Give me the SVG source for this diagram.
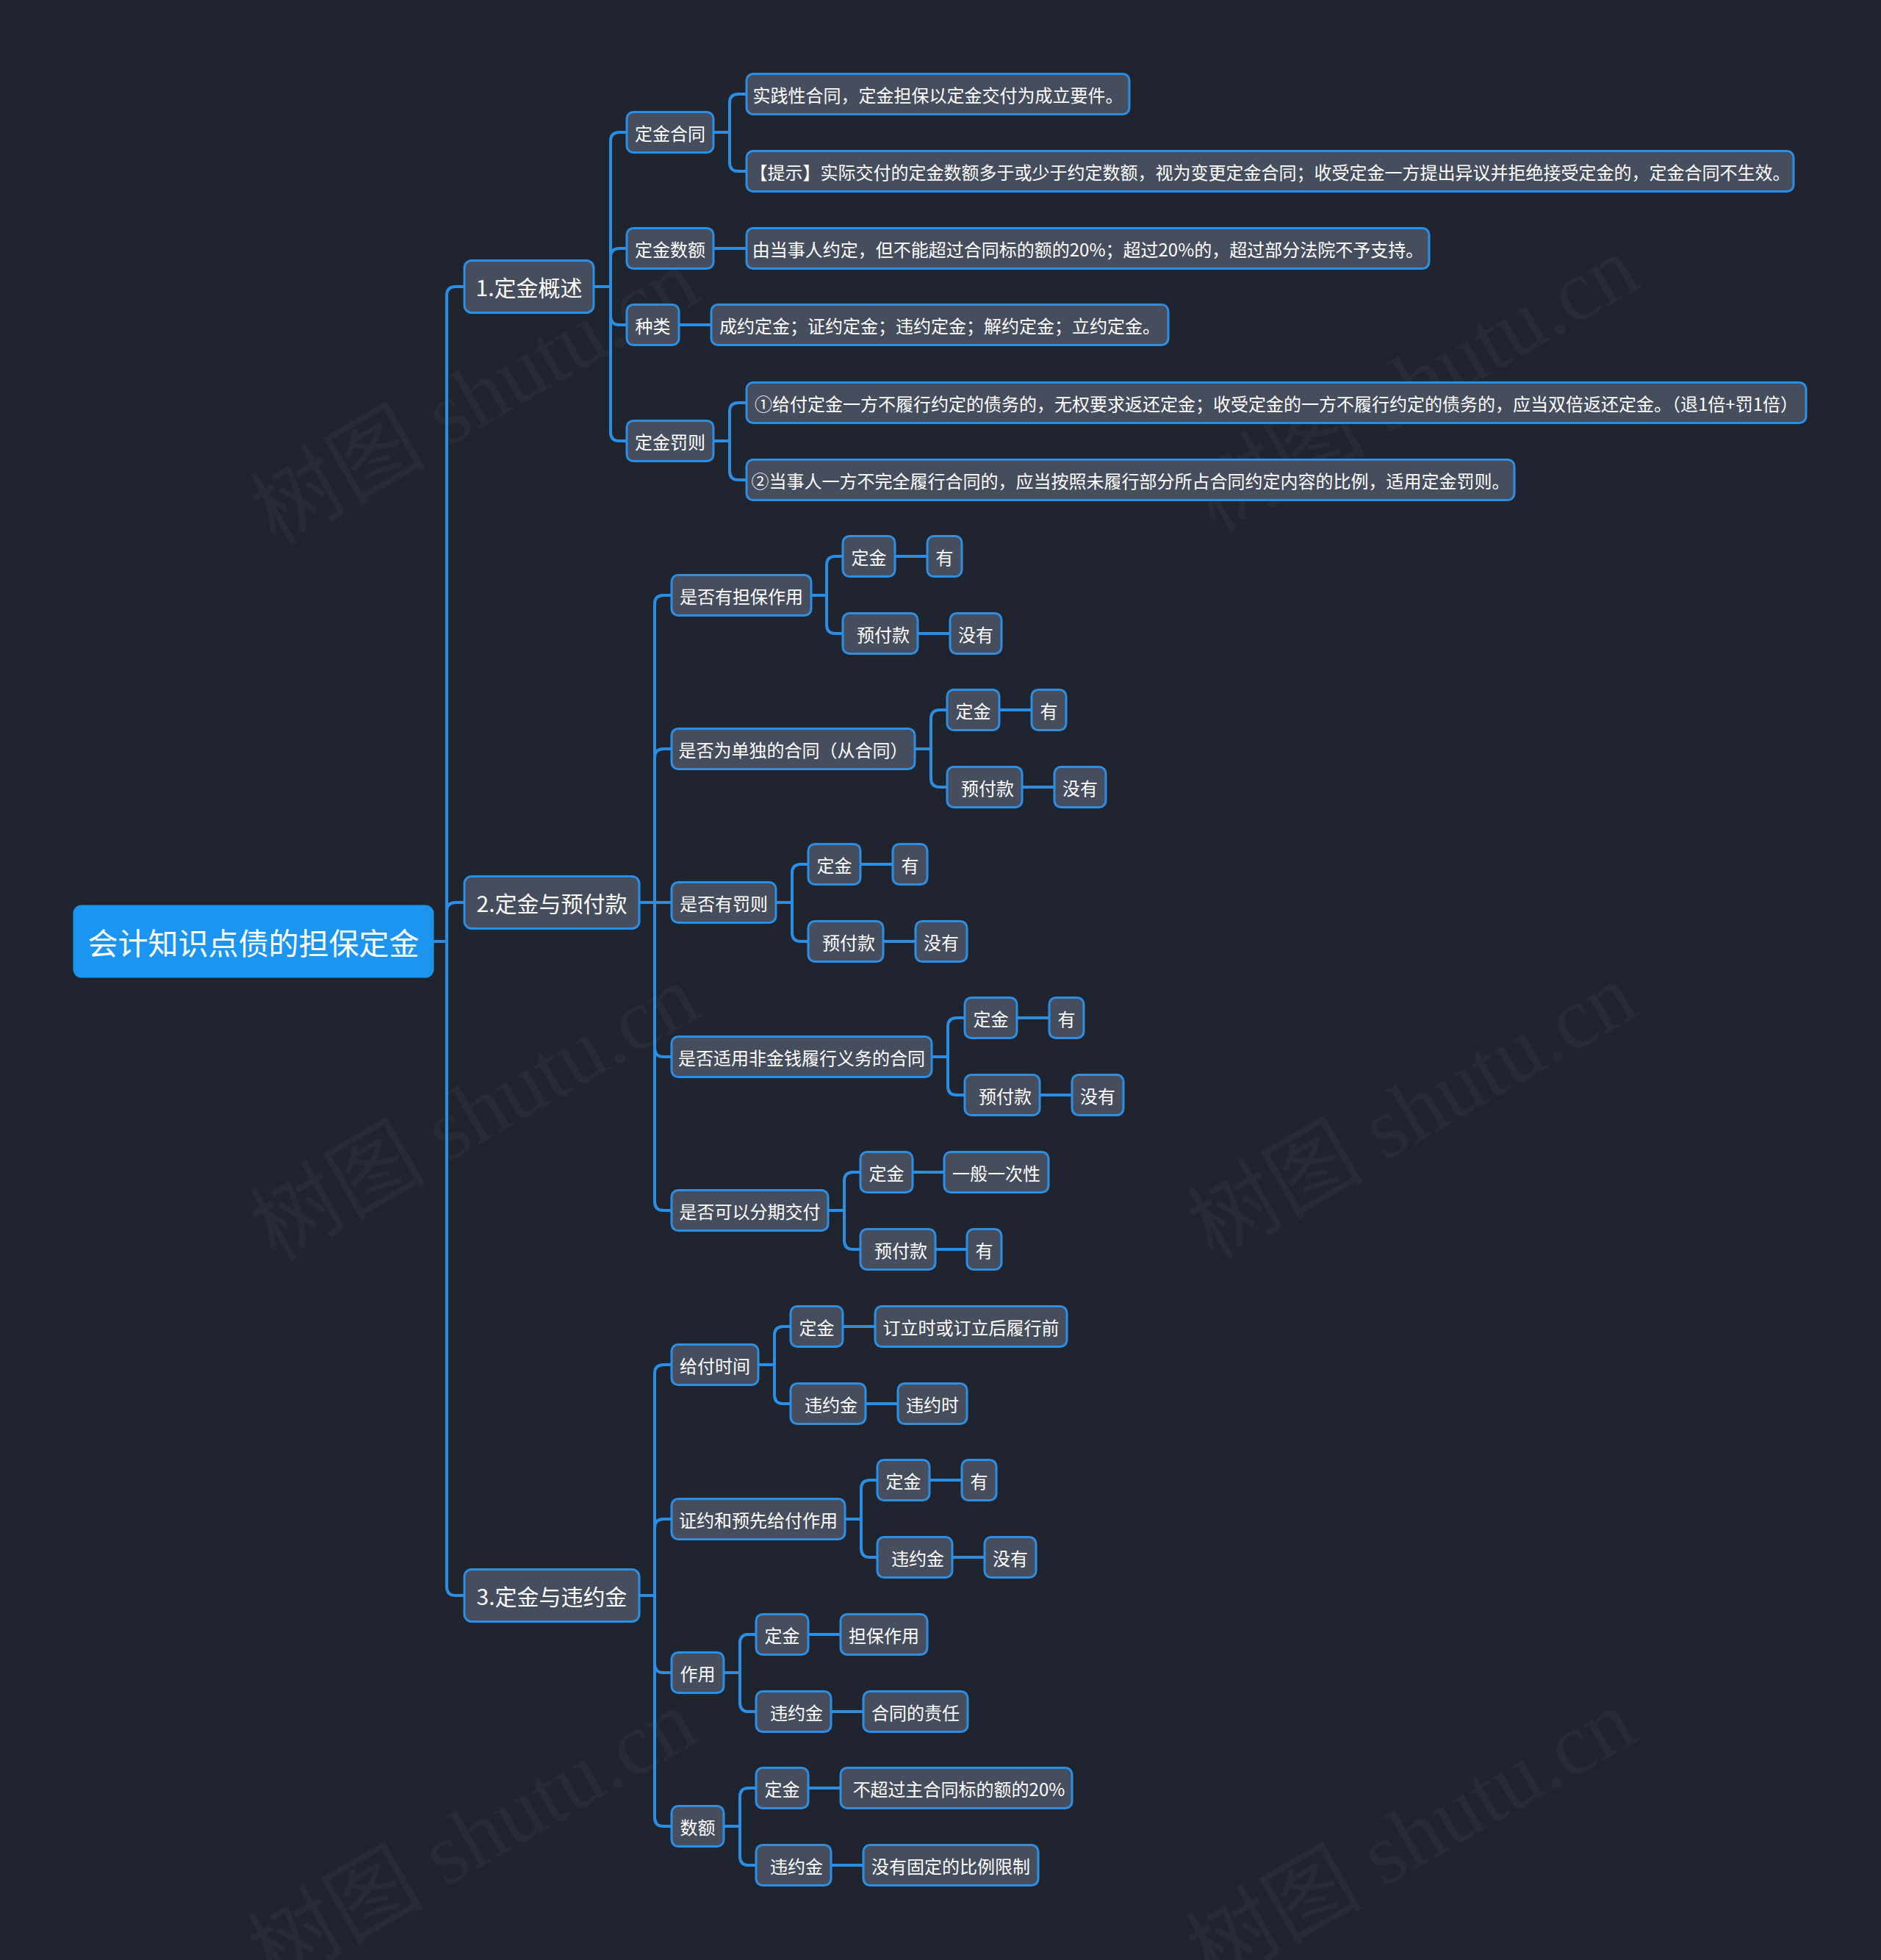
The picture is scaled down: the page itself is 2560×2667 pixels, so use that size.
<svg xmlns="http://www.w3.org/2000/svg" width="2560" height="2667" viewBox="0 0 2560 2667">
<style>
.bg{fill:#20242f}
.wm{font-family:"Liberation Serif","Noto Sans CJK SC",serif;font-size:120px;fill:#ffffff;fill-opacity:0.035;text-anchor:middle;dominant-baseline:central}
.n rect{fill:#464d5d;stroke:#2b8fe6;stroke-width:3}
.n text{font-family:"Noto Sans CJK SC","Noto Sans",sans-serif;font-size:24px;fill:#ffffff;text-anchor:middle;dominant-baseline:central}
.l1 text{font-size:30px}
.root rect{fill:#1b95ef;stroke:#1b95ef}
.root text{font-size:41px}
.c path{fill:none;stroke:#2a8fe4;stroke-width:4;stroke-linecap:round;stroke-linejoin:round}
</style>
<rect class="bg" x="0" y="0" width="2560" height="2667"/>
<g id="watermarks">
<text class="wm" transform="translate(646,540) rotate(-30)">树图 shutu.cn</text>
<text class="wm" transform="translate(1925,522) rotate(-30)">树图 shutu.cn</text>
<text class="wm" transform="translate(646,1514) rotate(-30)">树图 shutu.cn</text>
<text class="wm" transform="translate(1922,1512) rotate(-30)">树图 shutu.cn</text>
<text class="wm" transform="translate(643,2500) rotate(-30)">树图 shutu.cn</text>
<text class="wm" transform="translate(1920,2500) rotate(-30)">树图 shutu.cn</text>
</g>
<g id="connectors" class="c">
<path d="M589 1281 H608 V402 Q608 390 620 390 H632"/>
<path d="M589 1281 H608 V1240 Q608 1228 620 1228 H632"/>
<path d="M589 1281 H608 V2159 Q608 2171 620 2171 H632"/>
<path d="M808 390 H831 V192 Q831 180 843 180 H853"/>
<path d="M808 390 H831 V350 Q831 338 843 338 H853"/>
<path d="M808 390 H831 V430 Q831 442 843 442 H853"/>
<path d="M808 390 H831 V588 Q831 600 843 600 H853"/>
<path d="M971 180 H993 V140 Q993 128 1005 128 H1016"/>
<path d="M971 180 H993 V221 Q993 233 1005 233 H1016"/>
<path d="M971 338 H1016"/>
<path d="M924 442 H968"/>
<path d="M971 600 H993 V560 Q993 548 1005 548 H1016"/>
<path d="M971 600 H993 V641 Q993 653 1005 653 H1016"/>
<path d="M870 1228 H891 V822 Q891 810 903 810 H914"/>
<path d="M870 1228 H891 V1031 Q891 1019 903 1019 H914"/>
<path d="M870 1228 H914"/>
<path d="M870 1228 H891 V1426 Q891 1438 903 1438 H914"/>
<path d="M870 1228 H891 V1635 Q891 1647 903 1647 H914"/>
<path d="M1104 810 H1125 V769 Q1125 757 1137 757 H1147"/>
<path d="M1104 810 H1125 V850 Q1125 862 1137 862 H1147"/>
<path d="M1218 757 H1262"/>
<path d="M1249 862 H1293"/>
<path d="M1245 1019 H1267 V978 Q1267 966 1279 966 H1289"/>
<path d="M1245 1019 H1267 V1059 Q1267 1071 1279 1071 H1289"/>
<path d="M1360 966 H1404"/>
<path d="M1391 1071 H1435"/>
<path d="M1056 1228 H1078 V1188 Q1078 1176 1090 1176 H1100"/>
<path d="M1056 1228 H1078 V1269 Q1078 1281 1090 1281 H1100"/>
<path d="M1171 1176 H1215"/>
<path d="M1202 1281 H1246"/>
<path d="M1268 1438 H1290 V1397 Q1290 1385 1302 1385 H1313"/>
<path d="M1268 1438 H1290 V1478 Q1290 1490 1302 1490 H1313"/>
<path d="M1384 1385 H1428"/>
<path d="M1415 1490 H1459"/>
<path d="M1127 1647 H1149 V1607 Q1149 1595 1161 1595 H1171"/>
<path d="M1127 1647 H1149 V1688 Q1149 1700 1161 1700 H1171"/>
<path d="M1242 1595 H1285"/>
<path d="M1273 1700 H1316"/>
<path d="M870 2171 H891 V1869 Q891 1857 903 1857 H914"/>
<path d="M870 2171 H891 V2079 Q891 2067 903 2067 H914"/>
<path d="M870 2171 H891 V2264 Q891 2276 903 2276 H914"/>
<path d="M870 2171 H891 V2473 Q891 2485 903 2485 H914"/>
<path d="M1032 1857 H1054 V1817 Q1054 1805 1066 1805 H1076"/>
<path d="M1032 1857 H1054 V1898 Q1054 1910 1066 1910 H1076"/>
<path d="M1147 1805 H1191"/>
<path d="M1178 1910 H1222"/>
<path d="M1150 2067 H1172 V2026 Q1172 2014 1184 2014 H1194"/>
<path d="M1150 2067 H1172 V2107 Q1172 2119 1184 2119 H1194"/>
<path d="M1265 2014 H1309"/>
<path d="M1296 2119 H1340"/>
<path d="M985 2276 H1007 V2236 Q1007 2224 1019 2224 H1029"/>
<path d="M985 2276 H1007 V2317 Q1007 2329 1019 2329 H1029"/>
<path d="M1100 2224 H1144"/>
<path d="M1131 2329 H1175"/>
<path d="M985 2485 H1007 V2445 Q1007 2433 1019 2433 H1029"/>
<path d="M985 2485 H1007 V2526 Q1007 2538 1019 2538 H1029"/>
<path d="M1100 2433 H1144"/>
<path d="M1131 2538 H1175"/>
</g>
<g id="root" class="n root"><rect x="101" y="1233" width="488" height="96" rx="10"/><text x="345" y="1281">会计知识点债的担保定金</text></g>
<g id="s1" class="n l1"><rect x="632" y="354.5" width="176" height="71" rx="10"/><text x="720" y="390">1.定金概述</text></g>
<g id="s2" class="n l1"><rect x="632" y="1192.5" width="238" height="71" rx="10"/><text x="751" y="1228">2.定金与预付款</text></g>
<g id="s3" class="n l1"><rect x="632" y="2135.5" width="238" height="71" rx="10"/><text x="751" y="2171">3.定金与违约金</text></g>

<g id="n1a" class="n"><rect x="853" y="152.5" width="118" height="55" rx="9"/><text x="912" y="180">定金合同</text></g>
<g id="n1a1" class="n"><rect x="1016" y="100.5" width="521" height="55" rx="9"/><text x="1276.5" y="128">实践性合同，定金担保以定金交付为成立要件。</text></g>
<g id="n1a2" class="n"><rect x="1016" y="205.5" width="1425" height="55" rx="9"/><text x="1728.5" y="233">【提示】实际交付的定金数额多于或少于约定数额，视为变更定金合同；收受定金一方提出异议并拒绝接受定金的，定金合同不生效。</text></g>
<g id="n1b" class="n"><rect x="853" y="310.5" width="118" height="55" rx="9"/><text x="912" y="338">定金数额</text></g>
<g id="n1b1" class="n"><rect x="1016" y="310.5" width="929" height="55" rx="9"/><text x="1480.5" y="338">由当事人约定，但不能超过合同标的额的20%；超过20%的，超过部分法院不予支持。</text></g>
<g id="n1c" class="n"><rect x="853" y="414.5" width="71" height="55" rx="9"/><text x="888.5" y="442">种类</text></g>
<g id="n1c1" class="n"><rect x="968" y="414.5" width="622" height="55" rx="9"/><text x="1279" y="442">成约定金；证约定金；违约定金；解约定金；立约定金。</text></g>
<g id="n1d" class="n"><rect x="853" y="572.5" width="118" height="55" rx="9"/><text x="912" y="600">定金罚则</text></g>
<g id="n1d1" class="n"><rect x="1016" y="520.5" width="1442" height="55" rx="9"/><text x="1737" y="548">①给付定金一方不履行约定的债务的，无权要求返还定金；收受定金的一方不履行约定的债务的，应当双倍返还定金。（退1倍+罚1倍）</text></g>
<g id="n1d2" class="n"><rect x="1016" y="625.5" width="1045" height="55" rx="9"/><text x="1538.5" y="653">②当事人一方不完全履行合同的，应当按照未履行部分所占合同约定内容的比例，适用定金罚则。</text></g>

<g id="n2a" class="n"><rect x="914" y="782.5" width="190" height="55" rx="9"/><text x="1009" y="810">是否有担保作用</text></g>
<g id="n2a1" class="n"><rect x="1147" y="729.5" width="71" height="55" rx="9"/><text x="1182.5" y="757">定金</text></g>
<g id="n2a1a" class="n"><rect x="1262" y="729.5" width="47" height="55" rx="9"/><text x="1285.5" y="757">有</text></g>
<g id="n2a2" class="n"><rect x="1147" y="834.5" width="102" height="55" rx="9"/><text x="1202" y="862">预付款</text></g>
<g id="n2a2a" class="n"><rect x="1293" y="834.5" width="70" height="55" rx="9"/><text x="1328" y="862">没有</text></g>

<g id="n2b" class="n"><rect x="914" y="991.5" width="331" height="55" rx="9"/><text x="1079.5" y="1019">是否为单独的合同（从合同）</text></g>
<g id="n2b1" class="n"><rect x="1289" y="938.5" width="71" height="55" rx="9"/><text x="1324.5" y="966">定金</text></g>
<g id="n2b1a" class="n"><rect x="1404" y="938.5" width="47" height="55" rx="9"/><text x="1427.5" y="966">有</text></g>
<g id="n2b2" class="n"><rect x="1289" y="1043.5" width="102" height="55" rx="9"/><text x="1344" y="1071">预付款</text></g>
<g id="n2b2a" class="n"><rect x="1435" y="1043.5" width="70" height="55" rx="9"/><text x="1470" y="1071">没有</text></g>

<g id="n2c" class="n"><rect x="914" y="1200.5" width="142" height="55" rx="9"/><text x="985" y="1228">是否有罚则</text></g>
<g id="n2c1" class="n"><rect x="1100" y="1148.5" width="71" height="55" rx="9"/><text x="1135.5" y="1176">定金</text></g>
<g id="n2c1a" class="n"><rect x="1215" y="1148.5" width="47" height="55" rx="9"/><text x="1238.5" y="1176">有</text></g>
<g id="n2c2" class="n"><rect x="1100" y="1253.5" width="102" height="55" rx="9"/><text x="1155" y="1281">预付款</text></g>
<g id="n2c2a" class="n"><rect x="1246" y="1253.5" width="70" height="55" rx="9"/><text x="1281" y="1281">没有</text></g>

<g id="n2d" class="n"><rect x="914" y="1410.5" width="354" height="55" rx="9"/><text x="1091" y="1438">是否适用非金钱履行义务的合同</text></g>
<g id="n2d1" class="n"><rect x="1313" y="1357.5" width="71" height="55" rx="9"/><text x="1348.5" y="1385">定金</text></g>
<g id="n2d1a" class="n"><rect x="1428" y="1357.5" width="47" height="55" rx="9"/><text x="1451.5" y="1385">有</text></g>
<g id="n2d2" class="n"><rect x="1313" y="1462.5" width="102" height="55" rx="9"/><text x="1368" y="1490">预付款</text></g>
<g id="n2d2a" class="n"><rect x="1459" y="1462.5" width="70" height="55" rx="9"/><text x="1494" y="1490">没有</text></g>

<g id="n2e" class="n"><rect x="914" y="1619.5" width="213" height="55" rx="9"/><text x="1020.5" y="1647">是否可以分期交付</text></g>
<g id="n2e1" class="n"><rect x="1171" y="1567.5" width="71" height="55" rx="9"/><text x="1206.5" y="1595">定金</text></g>
<g id="n2e1a" class="n"><rect x="1285" y="1567.5" width="142" height="55" rx="9"/><text x="1356" y="1595">一般一次性</text></g>
<g id="n2e2" class="n"><rect x="1171" y="1672.5" width="102" height="55" rx="9"/><text x="1226" y="1700">预付款</text></g>
<g id="n2e2a" class="n"><rect x="1316" y="1672.5" width="47" height="55" rx="9"/><text x="1339.5" y="1700">有</text></g>

<g id="n3a" class="n"><rect x="914" y="1829.5" width="118" height="55" rx="9"/><text x="973" y="1857">给付时间</text></g>
<g id="n3a1" class="n"><rect x="1076" y="1777.5" width="71" height="55" rx="9"/><text x="1111.5" y="1805">定金</text></g>
<g id="n3a1a" class="n"><rect x="1191" y="1777.5" width="261" height="55" rx="9"/><text x="1321.5" y="1805">订立时或订立后履行前</text></g>
<g id="n3a2" class="n"><rect x="1076" y="1882.5" width="102" height="55" rx="9"/><text x="1131" y="1910">违约金</text></g>
<g id="n3a2a" class="n"><rect x="1222" y="1882.5" width="94" height="55" rx="9"/><text x="1269" y="1910">违约时</text></g>

<g id="n3b" class="n"><rect x="914" y="2039.5" width="236" height="55" rx="9"/><text x="1032" y="2067">证约和预先给付作用</text></g>
<g id="n3b1" class="n"><rect x="1194" y="1986.5" width="71" height="55" rx="9"/><text x="1229.5" y="2014">定金</text></g>
<g id="n3b1a" class="n"><rect x="1309" y="1986.5" width="47" height="55" rx="9"/><text x="1332.5" y="2014">有</text></g>
<g id="n3b2" class="n"><rect x="1194" y="2091.5" width="102" height="55" rx="9"/><text x="1249" y="2119">违约金</text></g>
<g id="n3b2a" class="n"><rect x="1340" y="2091.5" width="70" height="55" rx="9"/><text x="1375" y="2119">没有</text></g>

<g id="n3c" class="n"><rect x="914" y="2248.5" width="71" height="55" rx="9"/><text x="949.5" y="2276">作用</text></g>
<g id="n3c1" class="n"><rect x="1029" y="2196.5" width="71" height="55" rx="9"/><text x="1064.5" y="2224">定金</text></g>
<g id="n3c1a" class="n"><rect x="1144" y="2196.5" width="118" height="55" rx="9"/><text x="1203" y="2224">担保作用</text></g>
<g id="n3c2" class="n"><rect x="1029" y="2301.5" width="102" height="55" rx="9"/><text x="1084" y="2329">违约金</text></g>
<g id="n3c2a" class="n"><rect x="1175" y="2301.5" width="142" height="55" rx="9"/><text x="1246" y="2329">合同的责任</text></g>

<g id="n3d" class="n"><rect x="914" y="2457.5" width="71" height="55" rx="9"/><text x="949.5" y="2485">数额</text></g>
<g id="n3d1" class="n"><rect x="1029" y="2405.5" width="71" height="55" rx="9"/><text x="1064.5" y="2433">定金</text></g>
<g id="n3d1a" class="n"><rect x="1144" y="2405.5" width="315" height="55" rx="9"/><text x="1305" y="2433">不超过主合同标的额的20%</text></g>
<g id="n3d2" class="n"><rect x="1029" y="2510.5" width="102" height="55" rx="9"/><text x="1084" y="2538">违约金</text></g>
<g id="n3d2a" class="n"><rect x="1175" y="2510.5" width="238" height="55" rx="9"/><text x="1294" y="2538">没有固定的比例限制</text></g>
</svg>
